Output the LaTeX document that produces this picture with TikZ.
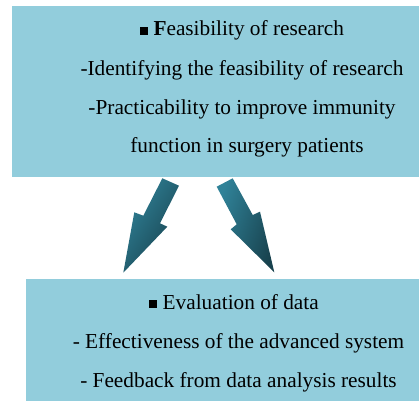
\documentclass[tikz,border=0pt]{standalone}
\usepackage{fontspec}
\setmainfont{Liberation Serif}
\usepackage{tikz}
\usetikzlibrary{positioning}

\definecolor{boxblue}{RGB}{146,205,220}
\definecolor{arrowlight}{RGB}{48,130,152}
\definecolor{arrowdark}{RGB}{24,66,78}
\newcommand{\sqmark}{\rule[1pt]{8pt}{8pt}\hspace{5.5pt}}

\begin{document}
\begin{tikzpicture}[x=1pt, y=-1pt,
    line/.style={font=\fontsize{21.3}{25}\selectfont, anchor=base, inner sep=0pt},
    blockarrow/.style={top color=arrowlight, bottom color=arrowdark, draw=none}]
    \useasboundingbox (0,0) rectangle (419,401);

    \fill[boxblue] (12,6) rectangle (419,177);
    \fill[boxblue] (26,279) rectangle (419,401);

    \node[line] (t1) at (242,36) {\sqmark{\bfseries F}easibility of research};
    \node[line, below=39pt of t1.base, anchor=base] (t2) {-Identifying the feasibility of research};
    \node[line, below=39pt of t2.base, anchor=base] (t3) {-Practicability to improve immunity};
    \node[line, below=38pt of t3.base, anchor=base, xshift=5pt] (t4) {function in surgery patients};

    \node[line] (b1) at (234,309) {\sqmark Evaluation of data};
    \node[line, below=39pt of b1.base, anchor=base, xshift=4.5pt] (b2) {- Effectiveness of the advanced system};
    \node[line, below=39pt of b2.base, anchor=base] (b3) {- Feedback from data analysis results};

    \shade[blockarrow, shading angle=57]
      (162.3,178.3) -- (179,185.7) -- (160,223.3) -- (167.3,226.7)
      -- (123.3,272.7) -- (134.3,212.3) -- (143.3,215.7) -- cycle;
    \shade[blockarrow, shading angle=70]
      (216.7,186.7) -- (232.7,178.3) -- (252.7,215) -- (260,211.7)
      -- (274.3,272.3) -- (230.7,229.3) -- (236.7,224.3) -- cycle;
\end{tikzpicture}
\end{document}
